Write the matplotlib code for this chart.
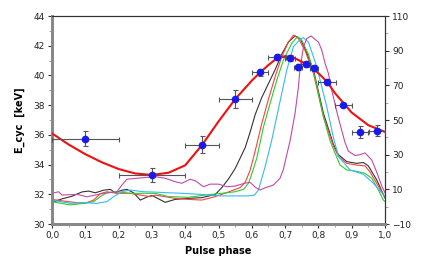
import matplotlib
matplotlib.use("Agg")
import matplotlib.pyplot as plt
from matplotlib.ticker import MultipleLocator, FuncFormatter, FixedLocator

# ---- data ----
fit_phase = [0.0, 0.05, 0.1, 0.15, 0.2, 0.25, 0.3, 0.35, 0.4, 0.45, 0.5, 0.55,
             0.6, 0.625, 0.65, 0.675, 0.7, 0.725, 0.75, 0.775, 0.8, 0.825, 0.85,
             0.9, 0.95, 1.0]
fit_ecyc = [36.1, 35.35, 34.7, 34.15, 33.7, 33.4, 33.3, 33.45, 33.95, 35.3, 36.9, 38.4,
            39.65, 40.2, 40.7, 41.15, 41.3, 41.2, 40.93, 40.6, 40.15, 39.6, 38.8,
            37.5, 36.65, 36.2]

obs_phase = [0.1, 0.3, 0.45, 0.55, 0.625, 0.677, 0.714, 0.739, 0.762, 0.787, 0.825, 0.875, 0.925, 0.975]
obs_ecyc = [35.75, 33.3, 35.35, 38.4, 40.2, 41.26, 41.15, 40.59, 40.75, 40.52, 39.58, 38.02, 36.17, 36.28]
obs_xerr = [0.1, 0.1, 0.05, 0.05, 0.025, 0.027, 0.015, 0.013, 0.013, 0.013, 0.027, 0.025, 0.023, 0.024]
obs_yerr = [0.5, 0.5, 0.6, 0.6, 0.25, 0.2, 0.2, 0.2, 0.2, 0.2, 0.2, 0.15, 0.4, 0.35]

black_phase = [0.0, 0.03, 0.06, 0.09, 0.11, 0.13, 0.155, 0.175, 0.19, 0.21, 0.225, 0.245, 0.265,
               0.285, 0.3, 0.32, 0.34, 0.37, 0.41, 0.45, 0.49, 0.51, 0.53, 0.55, 0.565, 0.58,
               0.595, 0.61, 0.63, 0.65, 0.67, 0.69, 0.71, 0.73, 0.745, 0.76, 0.785, 0.815,
               0.845, 0.86, 0.885, 0.915, 0.935, 0.95, 0.975, 0.995, 1.0]
black_val = [2.5, 4.5, 6, 8.5, 9, 8, 9.5, 10, 8, 9.5, 10, 8, 3.8,
             5.5, 6.5, 4.5, 2.5, 4.2, 4.8, 5.2, 7, 11, 16, 22, 28, 34,
             43, 53, 63, 71, 79, 88, 95, 98.5, 97, 91, 79, 54,
             36, 30, 26, 25, 25.5, 23.5, 15.5, 7, 5]

red_phase = [0.0, 0.04, 0.075, 0.1, 0.125, 0.145, 0.165, 0.195, 0.235, 0.265, 0.295, 0.31,
             0.37, 0.41, 0.45, 0.49, 0.53, 0.565, 0.58, 0.595, 0.61, 0.63, 0.65, 0.67,
             0.69, 0.71, 0.725, 0.74, 0.76, 0.785, 0.815, 0.845, 0.86, 0.885, 0.915,
             0.94, 0.955, 0.975, 0.995, 1.0]
red_val = [4.2, 3.1, 2.3, 2, 3.8, 7.5, 8.6, 7.7, 7.7, 6.7, 5.8, 6.7,
           4.8, 4.2, 3.8, 5.8, 8.5, 11, 14, 21, 32, 48, 62, 75,
           86.5, 95, 99, 97, 90, 77, 52, 35, 29, 25, 24,
           23.5, 20, 13.5, 7, 5.5]

green_phase = [0.0, 0.055, 0.095, 0.125, 0.145, 0.165, 0.195, 0.235, 0.275, 0.31, 0.35, 0.41,
               0.46, 0.51, 0.55, 0.575, 0.59, 0.6, 0.615, 0.635, 0.655, 0.675, 0.695, 0.72,
               0.737, 0.75, 0.77, 0.79, 0.815, 0.835, 0.85, 0.865, 0.885, 0.915, 0.94, 0.96,
               0.975, 0.995, 1.0]
green_val = [2.9, 1, 1.9, 2.9, 5.8, 8, 8.6, 7.7, 7.7, 7.7, 5.8, 5.4,
             6.7, 7.7, 8.6, 10, 13.5, 19, 28, 46, 59.6, 73, 84.6, 94.2,
             98, 96, 88, 74, 52, 38, 30.8, 24, 21.2, 20.4, 19.2, 16.4,
             11.5, 3.8, 3]

cyan_phase = [0.0, 0.055, 0.095, 0.135, 0.165, 0.185, 0.21, 0.235, 0.275, 0.31, 0.35, 0.39,
              0.43, 0.47, 0.51, 0.55, 0.59, 0.608, 0.62, 0.64, 0.66, 0.675, 0.69, 0.705,
              0.725, 0.745, 0.755, 0.77, 0.795, 0.825, 0.845, 0.86, 0.895, 0.935, 0.965,
              0.995, 1.0]
cyan_val = [3.8, 1.9, 2.3, 1.9, 2.9, 5.8, 8.6, 9.6, 8.6, 8.4, 8, 7.7,
            7.3, 6.7, 6.2, 6.2, 6.2, 6.7, 9.6, 23, 38.5, 52, 65.4, 78.8,
            92.3, 96.5, 97.5, 95, 80.8, 57.7, 40, 29, 21.2, 18.7, 13.5,
            7, 6]

magenta_phase = [0.0, 0.02, 0.03, 0.075, 0.105, 0.155, 0.195, 0.21, 0.225, 0.255, 0.285, 0.31,
                 0.34, 0.37, 0.39, 0.415, 0.43, 0.455, 0.475, 0.5, 0.525, 0.55, 0.58, 0.595,
                 0.612, 0.625, 0.64, 0.665, 0.685, 0.695, 0.705, 0.715, 0.73, 0.74, 0.745,
                 0.755, 0.765, 0.778, 0.79, 0.8, 0.81, 0.82, 0.83, 0.84, 0.855, 0.87, 0.88,
                 0.89, 0.91, 0.925, 0.94, 0.96, 0.975, 0.99, 1.0]
magenta_val = [7.7, 8.6, 6.7, 7.1, 5.7, 7.7, 8.6, 12.5, 15.8, 16.4, 16.9, 17.3,
               16.4, 14.4, 13.5, 15.8, 15, 11.5, 13, 13, 11.5, 11.9, 13.6, 14,
               11, 9.6, 10.9, 12.5, 16.5, 21.6, 30, 38, 54, 69, 80,
               92, 97, 98.5, 96.5, 95, 90.4, 82.7, 76.9, 67.3, 55, 44, 37,
               32, 29.5, 30, 31, 27, 20, 12, 8]

right_ticks = [-10, 10, 30, 50, 70, 90, 110]
right_minor = [0, 20, 40, 60, 80, 100]

# ---- figure ----
fig = plt.figure(figsize=(4.24, 2.72), dpi=100)
ax = fig.add_axes([52/424, 1-224/272, 333/424, 208/272])
ax2 = ax.twinx()
ax.set_zorder(ax2.get_zorder() + 1)
ax.patch.set_visible(False)

lw = 0.8
ax2.plot(black_phase, black_val, color="#333333", lw=lw)
ax2.plot(red_phase, red_val, color="#ff4040", lw=lw)
ax2.plot(green_phase, green_val, color="#2ecc2e", lw=lw)
ax2.plot(cyan_phase, cyan_val, color="#33bbee", lw=lw)
ax2.plot(magenta_phase, magenta_val, color="#c04aa8", lw=lw)

ax.plot(fit_phase, fit_ecyc, color="#ee1111", lw=1.5, zorder=3)
ax.errorbar(obs_phase, obs_ecyc, xerr=obs_xerr, yerr=obs_yerr, fmt="o",
            color="#1a1aee", markersize=4.5, ecolor="#555555", elinewidth=0.8,
            capsize=1.8, capthick=0.8, zorder=4)

ax.set_xlim(0, 1)
ax.set_ylim(30, 44)
ax2.set_ylim(-10, 110)

comma = FuncFormatter(lambda v, p: f"{v:.1f}".replace(".", ","))
ax.xaxis.set_major_locator(MultipleLocator(0.1))
ax.xaxis.set_minor_locator(MultipleLocator(0.05))
ax.xaxis.set_major_formatter(comma)
ax.yaxis.set_major_locator(MultipleLocator(2))
ax.yaxis.set_minor_locator(MultipleLocator(1))
ax2.yaxis.set_major_locator(FixedLocator(right_ticks))
ax2.yaxis.set_minor_locator(FixedLocator(right_minor))

for a in (ax, ax2):
    a.tick_params(which="major", direction="out", length=3, width=0.8,
                  labelsize=6.5, colors="#333333", labelcolor="#222222", pad=2)
    a.tick_params(which="minor", direction="out", length=2, width=0.6, colors="#999999")

for a in (ax, ax2):
    a.spines["left"].set_color("#888888")
    a.spines["left"].set_linewidth(2)
    a.spines["bottom"].set_color("#888888")
    a.spines["bottom"].set_linewidth(2)
    a.spines["top"].set_color("#333333")
    a.spines["top"].set_linewidth(0.8)
    a.spines["right"].set_color("#333333")
    a.spines["right"].set_linewidth(0.8)

ax.set_xlabel("Pulse phase", fontsize=7, fontweight="bold", labelpad=4)
ax.set_ylabel("E_cyc  [keV]", fontsize=7, fontweight="bold", labelpad=6)

fig.savefig("out.png", dpi=100)
